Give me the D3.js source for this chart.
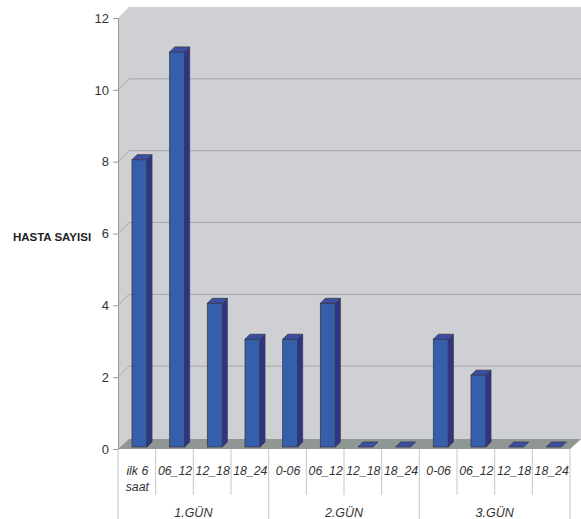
<!DOCTYPE html>
<html>
<head>
<meta charset="utf-8">
<script src="https://cdn.jsdelivr.net/npm/d3@7"></script>
<style>
  html, body { margin: 0; padding: 0; background: #fff; }
  svg { display: block; }
  text { font-family: "Liberation Sans", Arial, sans-serif; }
</style>
</head>
<body>
<svg id="chart" width="581" height="519"></svg>
<script>
// Patient counts per time slot over the first three days
const slots = ["ilk 6\nsaat", "06_12", "12_18", "18_24", "0-06", "06_12", "12_18", "18_24", "0-06", "06_12", "12_18", "18_24"];
const days = ["1.GÜN", "2.GÜN", "3.GÜN"];
const slotsPerDay = 4;
const counts = [8, 11, 4, 3, 3, 4, 0, 0, 3, 2, 0, 0];
const yTicks = [0, 2, 4, 6, 8, 10, 12];
const yTitle = "HASTA SAYISI";

const svg = d3.select("#chart");
const plotL = 118, plotR = 570, plotT = 18, plotB = 449;
const depth = 11;          // wall / floor depth offset
const barDepth = 5;        // bar side depth

const x = d3.scaleBand().domain(d3.range(counts.length)).range([plotL, plotR]).padding(0);
const y = d3.scaleLinear().domain([0, 12]).range([plotB, plotT]);

// wall (side + back)
svg.append("path")
  .attr("d", `M${plotL},${plotT} L${plotL + depth},${plotT - depth} L581,${plotT - depth} L581,${plotB - depth + 1} L${plotR},${plotB} L${plotL},${plotB} Z`)
  .attr("fill", "#cfd0d4");

// gridlines drawn on side + back wall
yTicks.filter(t => t > 0 && t < 12).forEach(t => {
  svg.append("path")
    .attr("d", `M${plotL},${y(t)} L${plotL + depth},${y(t) - depth} L581,${y(t) - depth}`)
    .attr("fill", "none").attr("stroke", "#a7a8ab").attr("stroke-width", 1);
});

// floor
svg.append("path")
  .attr("d", `M${plotL},${plotB} L${plotL + depth},${plotB - depth + 1} L581,${plotB - depth + 1} L${plotR},${plotB} Z`)
  .attr("fill", "#8f9693");

// y axis
const yAxis = d3.axisLeft(y).tickValues(yTicks).tickSize(5).tickPadding(4);
const ya = svg.append("g").attr("transform", `translate(${plotL},0)`).call(yAxis);
ya.select(".domain").attr("stroke", "#9a9a9a");
ya.selectAll(".tick line").attr("stroke", "#9a9a9a");
ya.selectAll(".tick text").attr("font-size", 13).attr("fill", "#333")
  .attr("font-family", "'Liberation Sans', Arial, sans-serif");

// axis title
svg.append("text").attr("x", 52).attr("y", 241).attr("text-anchor", "middle")
  .attr("font-size", 11.5).attr("font-weight", "bold").attr("fill", "#222").text(yTitle);

// bars (front, side, top faces)
const bw = 15, bOff = 14, lift = 2;
const bars = svg.append("g").selectAll("g").data(counts).join("g");
bars.each(function(v, i) {
  const g = d3.select(this);
  const x0 = x(i) + bOff, x1 = x0 + bw;
  const yb = y(0) - lift, yt = y(v) - lift;
  if (v > 0) {
    g.append("rect").attr("x", x0).attr("y", yt).attr("width", bw).attr("height", yb - yt)
      .attr("fill", "#355eab").attr("stroke", "#3a3a4a").attr("stroke-width", 0.8);
    g.append("path")
      .attr("d", `M${x1},${yt} L${x1 + barDepth},${yt - barDepth} L${x1 + barDepth},${yb - barDepth} L${x1},${yb} Z`)
      .attr("fill", "#2f3486").attr("stroke", "#3a3a4a").attr("stroke-width", 0.8);
  }
  g.append("path")
    .attr("d", `M${x0},${yt} L${x0 + barDepth},${yt - barDepth} L${x1 + barDepth},${yt - barDepth} L${x1},${yt} Z`)
    .attr("fill", "#3a4fa3").attr("stroke", "#3a3a4a").attr("stroke-width", 0.8);
});

// category divider lines
const dividers = d3.range(counts.length + 1);
svg.append("g").selectAll("line").data(dividers).join("line")
  .attr("x1", i => i < counts.length ? x(i) : plotR)
  .attr("x2", i => i < counts.length ? x(i) : plotR)
  .attr("y1", plotB)
  .attr("y2", i => i % slotsPerDay === 0 ? 519 : 495)
  .attr("stroke", "#c6c6c6").attr("stroke-width", 1);

// slot labels
const lab = svg.append("g").selectAll("text").data(slots).join("text")
  .attr("x", (d, i) => x(i) + x.bandwidth() / 2 + 0.5)
  .attr("y", 475)
  .attr("text-anchor", "middle")
  .attr("font-size", 12.3).attr("font-style", "italic").attr("fill", "#333");
lab.each(function(d) {
  const t = d3.select(this);
  d.split("\n").forEach((line, k) => {
    t.append("tspan").attr("x", t.attr("x")).attr("dy", k === 0 ? 0 : 16).text(line);
  });
});

// day labels
svg.append("g").selectAll("text").data(days).join("text")
  .attr("x", (d, i) => (x(i * slotsPerDay) + (i === days.length - 1 ? plotR : x((i + 1) * slotsPerDay))) / 2)
  .attr("y", 517)
  .attr("text-anchor", "middle")
  .attr("font-size", 12.5).attr("font-style", "italic").attr("fill", "#333")
  .text(d => d);
</script>
</body>
</html>
